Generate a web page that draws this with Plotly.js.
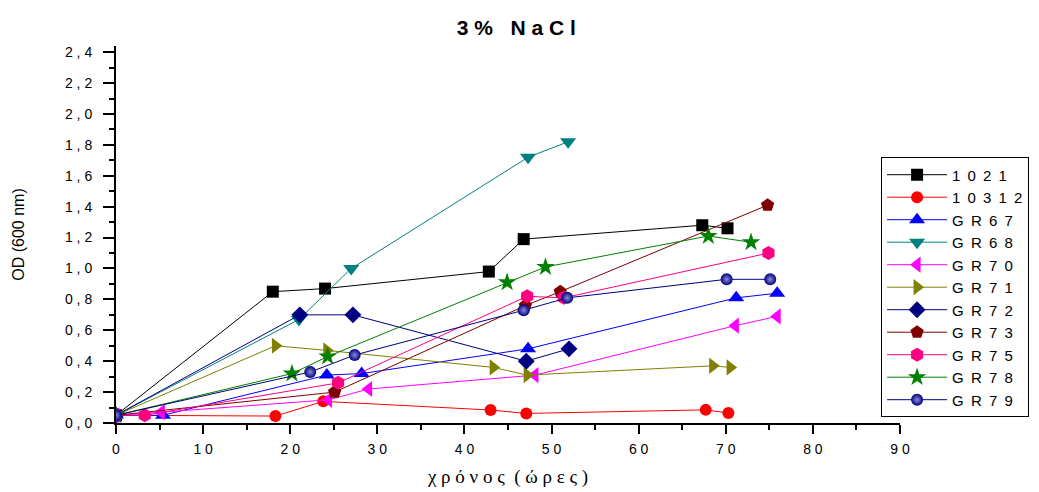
<!DOCTYPE html>
<html>
<head>
<meta charset="utf-8">
<script src="https://cdn.plot.ly/plotly-3.0.1.min.js"></script>
<style>body{margin:0;background:#fff}#chart{width:1039px;height:492px}</style>
</head>
<body>
<div id="chart"></div>
<script>
const seriesNames = ["1 0 2 1","1 0 3 1 2","G R 6 7","G R 6 8","G R 7 0","G R 7 1","G R 7 2","G R 7 3","G R 7 5","G R 7 8","G R 7 9"];

const x1021 = [0, 18.0, 24.0, 42.8, 46.8, 67.3, 70.2];
const y1021 = [0.05, 0.85, 0.87, 0.98, 1.19, 1.28, 1.26];

const x10312 = [0, 18.3, 23.8, 43.0, 47.1, 67.7, 70.3];
const y10312 = [0.05, 0.045, 0.14, 0.084, 0.062, 0.085, 0.065];

const xGR67 = [0, 5.4, 24.2, 28.2, 47.3, 71.2, 75.9];
const yGR67 = [0.05, 0.05, 0.31, 0.32, 0.48, 0.81, 0.84];

const xGR68 = [0, 21.0, 27.0, 47.3, 51.9];
const yGR68 = [0.05, 0.67, 1.00, 1.72, 1.82];

const xGR70 = [0, 5.2, 24.4, 29.0, 48.1, 71.1, 75.9];
const yGR70 = [0.05, 0.07, 0.15, 0.22, 0.31, 0.63, 0.69];

const xGR71 = [0, 18.3, 24.2, 43.3, 47.2, 68.5, 70.5];
const yGR71 = [0.05, 0.50, 0.47, 0.36, 0.31, 0.37, 0.36];

const xGR72 = [0, 21.1, 27.2, 47.1, 52.0];
const yGR72 = [0.05, 0.70, 0.70, 0.40, 0.48];

const xGR73 = [0, 25.1, 47.0, 51.0, 74.8];
const yGR73 = [0.05, 0.20, 0.76, 0.85, 1.41];

const xGR75 = [0, 3.3, 25.5, 47.2, 51.4, 74.9];
const yGR75 = [0.05, 0.05, 0.26, 0.82, 0.81, 1.10];

const xGR78 = [0, 20.2, 24.3, 44.9, 49.3, 68.0, 72.9];
const yGR78 = [0.05, 0.32, 0.43, 0.91, 1.01, 1.21, 1.17];

const xGR79 = [0, 22.3, 27.4, 46.8, 51.8, 70.1, 75.1];
const yGR79 = [0.05, 0.33, 0.44, 0.73, 0.81, 0.93, 0.93];

const yTickVals = [0,0.2,0.4,0.6,0.8,1.0,1.2,1.4,1.6,1.8,2.0,2.2,2.4];
const yTickText = ["0 , 0","0 , 2","0 , 4","0 , 6","0 , 8","1 , 0","1 , 2","1 , 4","1 , 6","1 , 8","2 , 0","2 , 2","2 , 4"];
const xTickVals = [0,10,20,30,40,50,60,70,80,90];
const xTickText = ["0","1 0","2 0","3 0","4 0","5 0","6 0","7 0","8 0","9 0"];

const xs = [x1021,x10312,xGR67,xGR68,xGR70,xGR71,xGR72,xGR73,xGR75,xGR78,xGR79];
const ys = [y1021,y10312,yGR67,yGR68,yGR70,yGR71,yGR72,yGR73,yGR75,yGR78,yGR79];
const colors = ["#000000","#ff0000","#0000ff","#008080","#ff00ff","#808000","#000080","#800000","#ff0080","#008000","#000080"];
const symbols = ["square","circle","triangle-up","triangle-down","triangle-left","triangle-right","diamond","pentagon","hexagon","star","circle"];
const sizes = [12,12,14,14,14,14,13,14,14,14,12];

const traces = seriesNames.map((n,i)=>({
  x: xs[i], y: ys[i], name: n.replace(/ /g, '\u2009 '), type: 'scatter', mode: 'lines+markers',
  line: {color: colors[i], width: 1},
  marker: Object.assign({color: colors[i], symbol: symbols[i], size: sizes[i], line:{width:0}},
    i===10 ? {gradient:{type:'radial', color:'#8a8ad8'}} : {})
}));

const layout = {
  width: 1039, height: 492,
  margin: {l:116, r:139, t:46, b:69, autoexpand: false},
  paper_bgcolor: '#fff', plot_bgcolor: '#fff',
  title: {text: '<b>3 %   N a C l</b>', x: 0.497, xref: 'container', y: 0.958, yref:'container',
          font: {family: 'Liberation Sans Narrow, Liberation Sans, Arial, sans-serif', size: 21, color: '#000'}},
  xaxis: {range: [0, 90], showgrid: false, zeroline: false, showline: true, linecolor: '#000', linewidth: 2,
          ticks: 'outside', ticklen: 9, tickwidth: 2, tickcolor: '#000', ticklabelstandoff: 3,
          tickvals: xTickVals, ticktext: xTickText,
          minor: {dtick: 5, tick0: 0, ticks: 'outside', ticklen: 5, tickwidth: 2, tickcolor:'#000', showgrid:false},
          tickfont: {family: 'Liberation Sans Narrow, Liberation Sans, Arial, sans-serif', size: 14, color: '#000'},
          title: {text: 'χ ρ ό ν ο ς  ( ώ ρ ε ς )', standoff: 14,
                  font: {family: 'Liberation Serif, DejaVu Serif, serif', size: 19, color: '#000'}}},
  yaxis: {range: [0, 2.44], showgrid: false, zeroline: false, showline: true, linecolor: '#000', linewidth: 2,
          ticks: 'outside', ticklen: 11, tickwidth: 2, tickcolor: '#000', ticklabelstandoff: 8,
          tickvals: yTickVals, ticktext: yTickText,
          minor: {dtick: 0.1, tick0: 0, ticks: 'outside', ticklen: 5, tickwidth: 2, tickcolor:'#000', showgrid:false},
          tickfont: {family: 'Liberation Sans, Arial, sans-serif', size: 14, color: '#000'},
          title: {text: 'OD (600 nm)', standoff: 36,
                  font: {family: 'Liberation Sans, Arial, sans-serif', size: 16, color: '#000'}}},
  legend: {x: 0.848, xref:'container', y: 0.68, yref:'container', xanchor: 'left', yanchor: 'top',
           bordercolor: '#000', borderwidth: 1, bgcolor: '#fff', maxheight: 300,
           font: {family: 'Liberation Sans, Arial, sans-serif', size: 15, color: '#000'},
           tracegroupgap: 0, itemwidth: 60},
  showlegend: true
};

Plotly.newPlot('chart', traces, layout, {displayModeBar: false, staticPlot: true});
</script>
</body>
</html>
